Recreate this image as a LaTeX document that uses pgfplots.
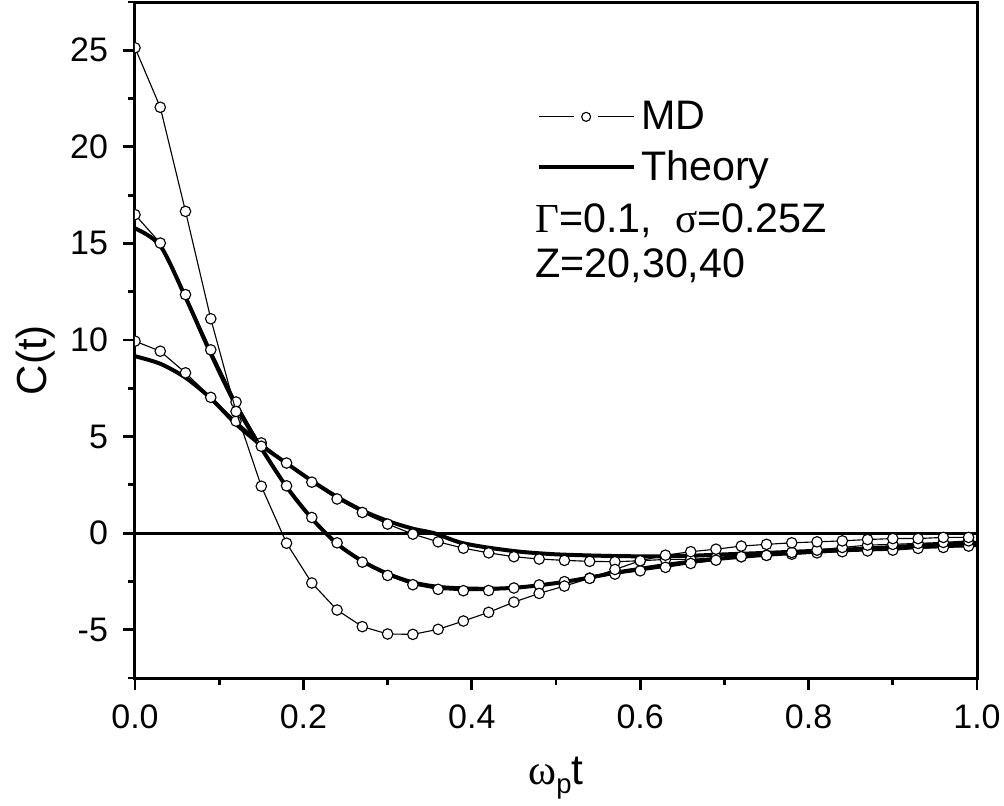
\documentclass[border=0pt]{standalone}
\usepackage{fontspec}
\setmainfont{Liberation Sans}
\newfontfamily\symf{Liberation Serif}
\usepackage{pgfplots}
\pgfplotsset{compat=1.18}
\begin{document}
\begin{tikzpicture}
\useasboundingbox (-54pt,-50.8pt) rectangle (347.6pt,271.2pt);
\begin{axis}[
 at={(0pt,0pt)}, anchor=south west,
 scale only axis, width=336.8pt, height=270.4pt,
 xmin=0, xmax=1, ymin=-7.5, ymax=27.5,
 xtick={0,0.2,0.4,0.6,0.8,1.0}, minor xtick={0.1,0.3,0.5,0.7,0.9},
 ytick={-5,0,5,10,15,20,25}, minor ytick={-7.5,-2.5,2.5,7.5,12.5,17.5,22.5,27.5},
 tick align=outside, tick pos=left,
 major tick length=4.8pt, minor tick length=2.8pt,
 every tick/.style={line width=1.1pt, black},
 axis line style={line width=1.2pt},
 /pgf/number format/assume math mode=true,
 xticklabel style={/pgf/number format/fixed, /pgf/number format/fixed zerofill, /pgf/number format/precision=1, yshift=-2.5pt},
 yticklabel style={xshift=-2.5pt},
 ticklabel style={font=\fontsize{13.6}{15}\selectfont},
 xlabel={{\symf ω}\raisebox{-3.5pt}{\fontsize{11}{12}\selectfont p}t},
 xlabel style={font=\fontsize{17}{19}\selectfont, at={(axis description cs:0.5,-0.158)}, anchor=base},
 ylabel={C(t)},
 ylabel style={font=\fontsize{16.8}{19}\selectfont, at={(axis description cs:-0.118,0.47)}, anchor=center},
 clip marker paths=true,
 legend style={at={(rel axis cs:0.477,0.862)}, anchor=north west, draw=none, fill=none,
   font=\fontsize{16.5}{19}\selectfont, inner sep=0pt, row sep=3pt},
 legend cell align=left,
]
\addplot[black, line width=1.1pt, forget plot] coordinates {(0,0) (1,0)};
% Theory Z=20
\addplot[black, line width=1.6pt, smooth, forget plot] coordinates {
(0,9.16) (0.03,8.77) (0.06,8.05) (0.09,6.98) (0.12,5.65) (0.15,4.55) (0.172,3.86) (0.212,2.65)
(0.2415,1.84) (0.271,1.15) (0.301,0.62) (0.331,0.22) (0.355,0.0) (0.386,-0.48) (0.418,-0.74)
(0.457,-0.96) (0.497,-1.09) (0.536,-1.15) (0.576,-1.19) (0.62,-1.20) (0.66,-1.17) (0.70,-1.10)
(0.75,-1.02) (0.80,-0.93) (0.85,-0.84) (0.90,-0.76) (0.95,-0.68) (1.0,-0.62)};
% Theory Z=30
\addplot[black, line width=1.6pt, smooth, forget plot] coordinates {
(0,15.78) (0.03,14.88) (0.06,12.21) (0.09,9.29) (0.12,6.60) (0.15,4.40) (0.18,2.40) (0.21,0.76)
(0.24,-0.55) (0.27,-1.45) (0.30,-2.10) (0.33,-2.55) (0.36,-2.78) (0.39,-2.86) (0.42,-2.88)
(0.45,-2.83) (0.48,-2.70) (0.51,-2.52) (0.54,-2.30) (0.57,-2.05) (0.60,-1.85) (0.63,-1.65)
(0.66,-1.48) (0.70,-1.30) (0.75,-1.12) (0.80,-0.98) (0.85,-0.85) (0.90,-0.72) (0.95,-0.60) (1.0,-0.50)};
% MD Z=20
\addplot[black, line width=0.45pt, mark=*, mark size=2.1pt, mark options={fill=white, draw=black, line width=0.45pt}, forget plot] coordinates {
(0,9.94) (0.03,9.42) (0.06,8.30) (0.09,7.03) (0.12,5.80) (0.15,4.67) (0.18,3.63) (0.21,2.64)
(0.24,1.77) (0.27,1.07) (0.30,0.47) (0.33,-0.05) (0.36,-0.45) (0.39,-0.78) (0.42,-1.02)
(0.45,-1.22) (0.48,-1.34) (0.51,-1.41) (0.54,-1.46) (0.57,-1.48) (0.60,-1.43) (0.63,-1.36)
(0.66,-1.36) (0.69,-1.27) (0.72,-1.22) (0.75,-1.15) (0.78,-1.09) (0.81,-1.02) (0.84,-0.96)
(0.87,-0.92) (0.90,-0.88) (0.93,-0.79) (0.96,-0.74) (0.99,-0.67)};
% MD Z=30
\addplot[black, line width=0.45pt, mark=*, mark size=2.1pt, mark options={fill=white, draw=black, line width=0.45pt}, forget plot] coordinates {
(0,16.49) (0.03,15.02) (0.06,12.35) (0.09,9.49) (0.12,6.79) (0.15,4.50) (0.18,2.45) (0.21,0.81)
(0.24,-0.50) (0.27,-1.50) (0.30,-2.19) (0.33,-2.67) (0.36,-2.91) (0.39,-2.98) (0.42,-2.97)
(0.45,-2.84) (0.48,-2.68) (0.51,-2.51) (0.54,-2.33) (0.57,-2.12) (0.60,-1.95) (0.63,-1.77)
(0.66,-1.57) (0.69,-1.40) (0.72,-1.22) (0.75,-1.15) (0.78,-1.00) (0.81,-0.88) (0.84,-0.74)
(0.87,-0.62) (0.90,-0.58) (0.93,-0.53) (0.96,-0.48) (0.99,-0.40)};
% MD Z=40
\addplot[black, line width=0.45pt, mark=*, mark size=2.1pt, mark options={fill=white, draw=black, line width=0.45pt}, forget plot] coordinates {
(0,25.13) (0.03,22.05) (0.06,16.66) (0.09,11.10) (0.12,6.30) (0.15,2.43) (0.18,-0.52) (0.21,-2.58)
(0.24,-3.98) (0.27,-4.84) (0.30,-5.22) (0.33,-5.24) (0.36,-4.98) (0.39,-4.55) (0.42,-4.10)
(0.45,-3.57) (0.48,-3.12) (0.51,-2.74) (0.54,-2.34) (0.57,-1.88) (0.60,-1.43) (0.63,-1.14)
(0.66,-0.96) (0.69,-0.83) (0.72,-0.67) (0.75,-0.58) (0.78,-0.50) (0.81,-0.45) (0.84,-0.40)
(0.87,-0.33) (0.90,-0.28) (0.93,-0.28) (0.96,-0.22) (0.99,-0.22)};
\addlegendimage{legend image code/.code={
  \draw[line width=0.45pt] (0pt,0pt) -- (14pt,0pt);
  \draw[line width=0.45pt, fill=white] (18.8pt,0pt) circle (1.8pt);
  \draw[line width=0.45pt] (23.5pt,0pt) -- (38pt,0pt);}}
\addlegendentry{MD}
\addlegendimage{legend image code/.code={\draw[line width=1.6pt] (0pt,0pt) -- (38pt,0pt);}}
\addlegendentry{Theory}
\node[anchor=base west, inner sep=0pt, font=\fontsize{16.5}{19}\selectfont] at (rel axis cs:0.475,0.659) {{\symf Γ}=0.1,\ \ {\symf σ}=0.25Z};
\node[anchor=base west, inner sep=0pt, font=\fontsize{16.5}{19}\selectfont] at (rel axis cs:0.475,0.592) {Z=20,30,40};
\end{axis}
\end{tikzpicture}
\end{document}
